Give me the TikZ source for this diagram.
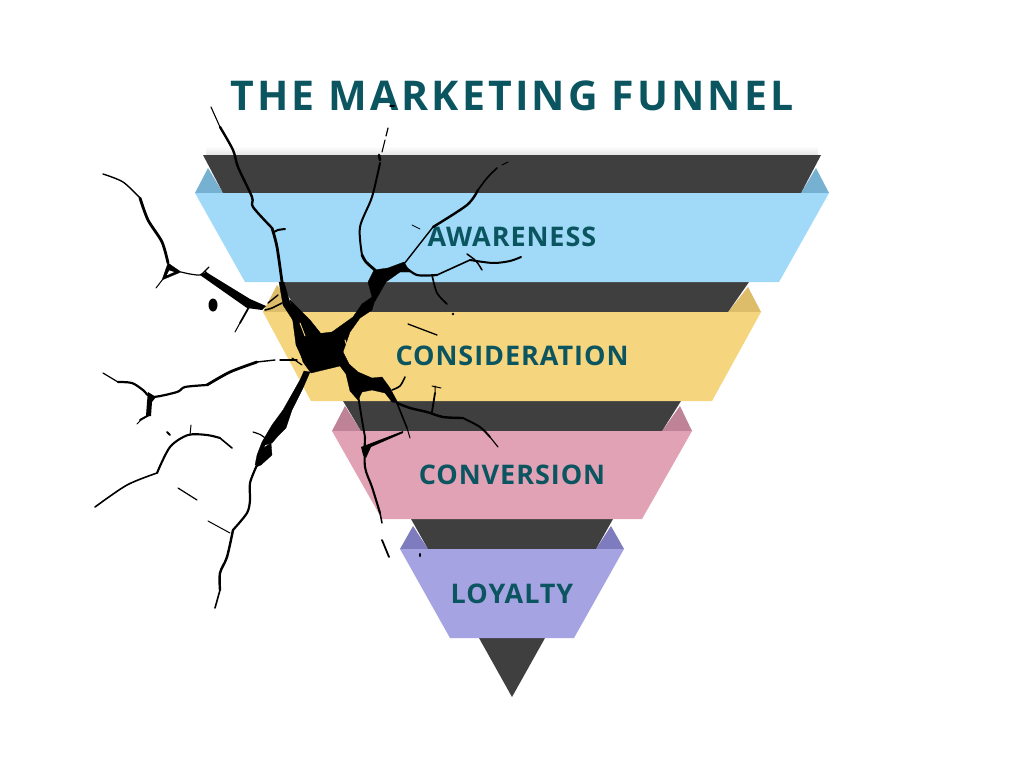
\documentclass[tikz,border=0pt]{standalone}
\usepackage{fontspec}
\setmainfont{Open Sans}
\newfontfamily\titlefont[LetterSpace=7.5]{Open Sans}
\newfontfamily\labfont[LetterSpace=3.5]{Open Sans}
\definecolor{dk}{HTML}{3F3F3F}
\definecolor{txt}{HTML}{0B5560}
\definecolor{blueb}{HTML}{A0DAF8}
\definecolor{bluef}{HTML}{76B1D2}
\definecolor{yelb}{HTML}{F6D57F}
\definecolor{yelf}{HTML}{DDBD6A}
\definecolor{pinkb}{HTML}{E0A2B4}
\definecolor{pinkf}{HTML}{BF8398}
\definecolor{purb}{HTML}{A5A3E2}
\definecolor{purf}{HTML}{7E7CBF}
\newcommand{\ck}[2]{\draw[crk=#1] plot[smooth,tension=.5] coordinates {#2};}
\tikzset{
  crk/.style={draw=black,line width=#1,line cap=round,line join=round},
  crk/.default=1.5,
  ink/.style={fill=black,draw=black,line width=.3,line join=round},
  lab/.style={font=\labfont\bfseries\fontsize{27}{27}\selectfont,text=txt,inner sep=0},
  sliver/.style={draw=yelb,line width=#1,line cap=round,line join=round}
}
\begin{document}
\begin{tikzpicture}[x=1pt,y=-1pt]
\useasboundingbox (0,0) rectangle (1024,768);
\fill[white] (0,0) rectangle (1024,768);
\shade[top color=white,bottom color=black!10] (206,146) rectangle (818,155);
% folds
\fill[bluef] (195,193)--(208,168)--(223,193)--cycle (829,193)--(816,168)--(801,193)--cycle;
\fill[yelf] (263,312)--(277,285)--(298,312)--cycle (761,312)--(748,287)--(728,312)--cycle;
\fill[pinkf] (332,431)--(345,406)--(361,431)--cycle (692,431)--(680,406)--(662,431)--cycle;
\fill[purf] (400,549)--(413,526)--(428,549)--cycle (624,549)--(611,526)--(596,549)--cycle;
% dark bands
\fill[dk] (203,155)--(821,155)--(801,193)--(223,193)--cycle;
\fill[dk] (280,282)--(749,282)--(728,312)--(298,312)--cycle;
\fill[dk] (343,401)--(681,401)--(662,431)--(361,431)--cycle;
\fill[dk] (411,519)--(613,519)--(596,549)--(428,549)--cycle;
\fill[dk] (479,638)--(545,638)--(512,697)--cycle;
% faces
\fill[blueb] (195,193)--(829,193)--(779,282)--(245,282)--cycle;
\fill[yelb] (263,312)--(761,312)--(712,401)--(311,401)--cycle;
\fill[pinkb] (332,431)--(692,431)--(642,519)--(382,519)--cycle;
\fill[purb] (400,549)--(624,549)--(574,638)--(450,638)--cycle;
% text
\node[font=\titlefont\bfseries\fontsize{41}{41}\selectfont,text=txt,inner sep=0] (title) at (512,96) {THE MARKETING FUNNEL};
\node[lab] (aw) at (512,237) {AWARENESS};
\node[lab] (co) at (512,356) {CONSIDERATION};
\node[lab] (cv) at (512,475) {CONVERSION};
\node[lab] (lo) at (512,594) {LOYALTY};
% crack A
\ck{1.1}{(211,107)(220,127)}
\ck{2.4}{(220,127)(233,150)(238,167)(252,197)(253,207)(272,228)}
\ck{2.8}{(272,228)(277,247)(282,282)}
\ck{2}{(274,232)(278,230)(285,229)}
% crack B
\ck{1.4}{(103,174)(123,182)(140,198)}
\ck{2.8}{(140,198)(148,220)(162,242)(168,263)}
\draw[ink,even odd rule] (168,263)--(181,272)--(162,280)--cycle (169,270)--(175,272)--(166,276)--cycle;
\ck{1}{(163,279)(156,288)}
\ck{1.2}{(181,272)(190,274)(200,275)(205,271)(209,267)}
\ck{1.2}{(205,271)(210,277)}
\fill[black] (200,275)--(206,272)--(250,299)--(266,306)--(262,310)--(247,308)--cycle;
\ck{1.8}{(249,307)(240,323)}
\ck{1}{(240,323)(235,332)}
\fill[black] (213,305) ellipse (4.5 and 6.5);
% central mass
\draw[ink] (279,282)--(284,282)--(293,313)--(307,335)--(332,332)--(353,317)--(362,304)--(372,297)--(368,282)--(374,270)--(388,268)--(404,262)--(410,272)--(400,272)--(386,282)--(374,303)--(372,310)--(360,318)--(350,332)--(343,352)--(349,364)--(358,372)--(372,378)--(382,377)--(390,388)--(398,403)--(392,402)--(385,393)--(372,390)--(362,392)--(358,400)--(350,391)--(346,374)--(340,366)--(311,373)--(303,362)--(298,345)--(296,325)--(283,305)--cycle;
\draw[ink] (290,300)--(310,320)--(326,340)--(303,360)--(296,345)--cycle;
\draw[sliver=.9] (300,323)--(305,336);
\draw[sliver=1] (345,340)--(350,355)--(362,366);
\ck{1.6}{(282,303)(272,308)(265,310)}
\ck{1.4}{(278,295)(268,303)}
\ck{1.2}{(292,358)(302,365)}
% crack C
\ck{1.2}{(103,373)(118,382)}
\ck{2.2}{(118,382)(132,383)(143,390)(152,397)(177,392)(185,387)(207,385)}
\ck{2.8}{(207,385)(230,372)(257,362)}
\ck{1.4}{(257,362)(275,360)}
\ck{1.4}{(280,360)(297,360)}
\fill[black] (148,392)--(156,397)--(152,402)--(151,416)--(146,416)--(147,402)--cycle;
\ck{2}{(149,415)(140,420)}
\ck{1}{(141,420)(137,424)}
% crack D
\draw[ink] (310,372)--(303,388)--(292,410)--(286,428)--(278,436)--(272,443)--(265,445)--(262,454)--(258,463)--(255,465)--(257,455)--(262,442)--(272,425)--(283,410)--(300,380)--(304,371)--cycle;
\draw[ink] (271,443)--(272,455)--(261,465)--(256,467)--(258,455)--(265,447)--cycle;
\ck{2.2}{(257,465)(250,483)(250,500)(247,513)(233,530)}
\ck{2.4}{(233,530)(227,557)(220,573)(220,590)}
\ck{1.6}{(220,590)(215,608)}
\ck{1.2}{(270,442)(261,435)(253,432)}
% crack E
\ck{1.6}{(95,507)(127,485)(157,473)}
\ck{2.1}{(157,473)(170,447)(188,435)(207,435)(220,438)}
\ck{1.6}{(220,438)(232,448)}
\ck{1}{(190,435)(191,425)}
\ck{2}{(167,432)(170,435)}
\ck{1.2}{(178,488)(197,500)}
\ck{1}{(208,521)(230,533)}
% crack F
\ck{2.8}{(375,270)(366,262)(362,255)}
\ck{2}{(362,255)(360,227)(372,197)(380,163)}
\ck{2.6}{(379,155)(380,160)}
\ck{1.1}{(382,152)(385,140)}
\ck{1.2}{(386,136)(388,128)}
\ck{2}{(390,106)(394,106)}
% crack G/H
\ck{1.4}{(404,264)(433,227)}
\ck{2.4}{(433,227)(467,205)(478,190)}
\ck{1.6}{(478,190)(487,178)(497,168)}
\ck{1}{(502,165)(508,162)}
\ck{2.2}{(404,266)(417,275)(437,275)}
\ck{1.6}{(437,275)(470,260)}
\ck{2}{(470,260)(493,263)(510,261)(521,257)}
\ck{1.5}{(467,254)(476,261)(482,270)}
\ck{1.7}{(432,275)(437,293)(447,304)}
\fill[black] (453,314) circle (1.3);
\ck{1.3}{(408,324)(437,335)}
\ck{.8}{(412,225)(420,229)}
% crack lower
\ck{1.9}{(358,395)(362,420)(365,437)}
\ck{2.1}{(365,437)(365,467)(372,487)(380,513)}
\ck{1.5}{(380,513)(382,523)}
\ck{1.8}{(382,540)(389,557)}
\fill[black] (420,555) ellipse (1 and 2);
\fill[black] (361,447)--(403,431)--(403,433)--(371,447)--(366,458)--(363,455)--cycle;
\ck{1.6}{(397,403)(407,428)}
\ck{1}{(407,428)(410,438)}
\ck{2.4}{(397,403)(410,408)(427,412)(443,417)(463,418)}
\ck{1.9}{(463,418)(480,427)(490,437)}
\ck{1.1}{(490,437)(498,447)}
\ck{1.8}{(432,412)(435,393)}
\draw[crk=1] (435,393)--(435,386) (432,386)--(441,388);
\ck{1.6}{(392,390)(400,386)(405,377)}
\end{tikzpicture}
\end{document}
